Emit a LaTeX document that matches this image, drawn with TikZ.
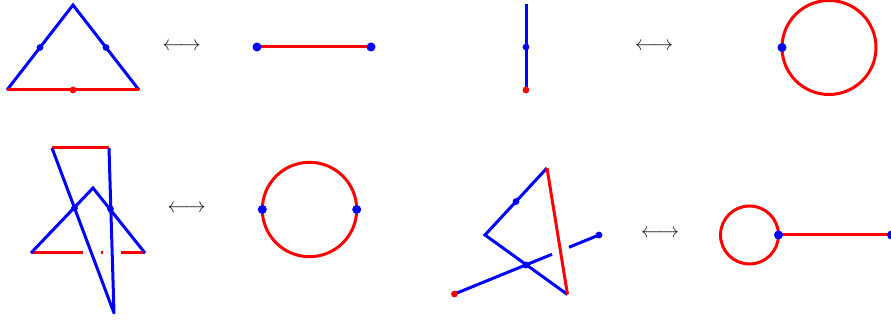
\documentclass[tikz,border=0pt]{standalone}
\usetikzlibrary{calc}
\begin{document}
\begin{tikzpicture}[x=0.5pt,y=-0.5pt,
  bl/.style={draw=blue, line width=1.5pt},
  rd/.style={draw=red, line width=1.5pt},
  bdot/.style={circle, fill=blue, inner sep=0pt, minimum size=3.4pt},
  bbig/.style={circle, fill=blue, inner sep=0pt, minimum size=4.5pt},
  rdot/.style={circle, fill=red, inner sep=0pt, minimum size=3.4pt},
  arr/.style={anchor=base, inner sep=0pt, text=black!85, scale=1.05}]
\useasboundingbox (0,0) rectangle (891,320);

% ---------- panel 1: triangle ----------
\coordinate (t1a) at (73,5);
\coordinate (t1b) at (7,90);
\coordinate (t1c) at (139,90);
\draw[bl] (t1b) -- (t1a) -- (t1c);
\draw[rd] (t1b) -- (t1c);
\node[bdot] (t1ab) at ($(t1a)!0.5!(t1b)$) {};
\node[bdot] (t1ac) at ($(t1a)!0.5!(t1c)$) {};
\node[rdot] (t1bc) at ($(t1b)!0.5!(t1c)$) {};
\node[arr] (ar1) at (181.5,51) {$\longleftrightarrow$};

% ---------- panel 2: segment ----------
\coordinate (s2a) at (257,47);
\coordinate (s2b) at (371,47);
\draw[rd] (s2a) -- (s2b);
\node[bbig] (d2a) at (s2a) {};
\node[bbig] (d2b) at (s2b) {};

% ---------- panel 3: vertical segment ----------
\coordinate (v3a) at (526,4);
\coordinate (v3b) at (526,90);
\draw[bl] (v3a) -- (v3b);
\node[bdot] (d3m) at ($(v3a)!0.5!(v3b)$) {};
\node[rdot] (d3b) at (v3b) {};
\node[arr] (ar2) at (654,51) {$\longleftrightarrow$};

% ---------- panel 4: circle ----------
\coordinate (c4) at (829,47.5);
\draw[rd] (c4) circle[radius=23.5pt];
\node[bbig] (d4) at (782,47.5) {};

% ---------- panel 5: knotted figure ----------
\coordinate (k1) at (52,148);
\coordinate (k2) at (109,148);
\coordinate (k3) at (114,313);
\coordinate (k4) at (93,188);
\coordinate (k5) at (31,253);
\coordinate (k6) at (145,253);
\draw[rd] (k1) -- (k2);
\draw[rd] (k5) -- (83,253);
\draw[rd] (100.5,253) -- (103,253);
\draw[rd] (121,253) -- (k6);
\draw[bl] (k5) -- (k4) -- (k6);
\draw[bl, line join=round] (k1) -- (k3) -- (k2);
\node[bdot] (x5a) at (74.5,208) {};
\node[bdot] (x5b) at (110.5,209) {};
\node[arr] (ar3) at (186.5,213) {$\longleftrightarrow$};

% ---------- panel 6: circle with two points ----------
\coordinate (c6) at (309.5,209.5);
\draw[rd] (c6) circle[radius=23.6pt];
\node[bbig] (d6a) at (262.3,209.5) {};
\node[bbig] (d6b) at (356.7,209.5) {};

% ---------- panel 7: triangle with crossing segment ----------
\coordinate (q1) at (547,168);
\coordinate (q2) at (485,235);
\coordinate (q3) at (567.5,294.5);
\coordinate (q4) at (454.5,294);
\coordinate (q5) at (599,235);
\coordinate (g1) at (552,254.3);
\coordinate (g2) at (569,247.3);
\draw[bl] (q1) -- (q2) -- (q3);
\draw[rd] (q1) -- (q3);
\draw[bl] (q4) -- (g1);
\draw[bl] (g2) -- (q5);
\node[bdot] (d7a) at ($(q1)!0.5!(q2)$) {};
\node[bdot] (d7x) at (526,265) {};
\node[bdot] (d7b) at (q5) {};
\node[rdot] (d7r) at (q4) {};
\node[arr] (ar4) at (660,238) {$\longleftrightarrow$};

% ---------- panel 8: lollipop ----------
\coordinate (c8) at (749.5,235);
\draw[rd] (c8) circle[radius=14.5pt];
\coordinate (l8a) at (778.5,235);
\coordinate (l8b) at (891.5,235);
\draw[rd] (l8a) -- (l8b);
\node[bbig] (d8a) at (l8a) {};
\node[bbig] (d8b) at (l8b) {};
\end{tikzpicture}
\end{document}
